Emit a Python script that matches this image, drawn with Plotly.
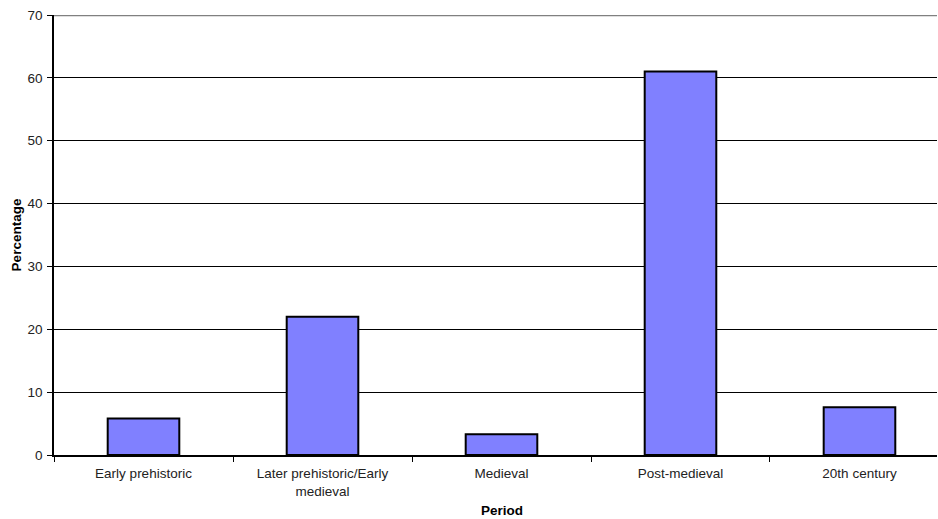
import plotly.graph_objects as go

categories = ["Early prehistoric", "Later prehistoric/Early<br>medieval", "Medieval", "Post-medieval", "20th century"]
percentages = [5.8, 22.0, 3.3, 61.0, 7.6]
y_ticks = [0, 10, 20, 30, 40, 50, 60, 70]

fig = go.Figure()
fig.add_trace(go.Bar(
    x=categories, y=percentages,
    marker=dict(color="#8080FF", line=dict(color="black", width=2)),
    width=0.40,
))

fig.add_shape(type="line", xref="paper", yref="y", x0=0, x1=1, y0=70, y1=70,
              line=dict(color="#808080", width=2.5), layer="above")

# x-axis title: centred on the full (right-cropped) category band, as in the original
fig.add_annotation(text="<b>Period</b>", xref="x", x=2, yref="paper", y=-0.125,
                   yanchor="middle", showarrow=False,
                   font=dict(size=13.5, color="black"))

fig.update_layout(
    width=938, height=519,
    margin=dict(l=54, r=1, t=15, b=64),
    plot_bgcolor="white", paper_bgcolor="white",
    font=dict(family="Liberation Sans, Arial, sans-serif", size=13.5, color="#222"),
    showlegend=False,
    xaxis=dict(
        range=[-0.5, 4.433],
        showline=True, linecolor="black", linewidth=1.5,
        ticks="outside", tickson="boundaries", ticklen=5, tickcolor="black", tickwidth=1,
        showgrid=False,
        tickfont=dict(size=13.5, color="#222"),
        ticklabelstandoff=5,
    ),
    yaxis=dict(
        range=[0, 70], tickvals=y_ticks,
        showline=True, linecolor="black", linewidth=1.5,
        ticks="outside", ticklen=5, tickcolor="black", tickwidth=1,
        showgrid=True, gridcolor="black", gridwidth=1,
        zeroline=False,
        tickfont=dict(size=13.5, color="#222"),
        ticklabelstandoff=2,
        title=dict(text="<b>Percentage</b>", font=dict(size=13.5, color="black"), standoff=3),
    ),
)

fig.write_html("out.html", config={"displayModeBar": False},
               post_script="document.body.style.margin='0';")
